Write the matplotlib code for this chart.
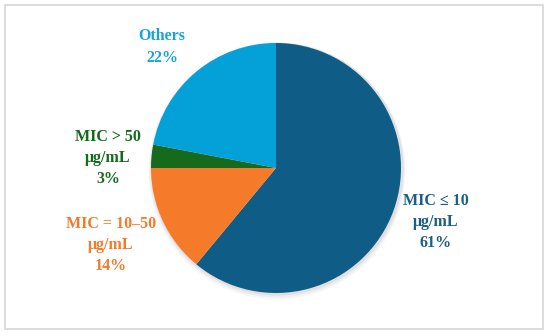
import matplotlib
matplotlib.use("Agg")
import matplotlib.pyplot as plt
from matplotlib.patches import Rectangle, Circle

# ── Data ──────────────────────────────────────────────────────────────────────
categories = ["MIC \u2264 10\n\u03bcg/mL", "MIC = 10\u201350\n\u03bcg/mL",
              "MIC > 50\n\u03bcg/mL", "Others"]
shares = [61, 14, 3, 22]
colors = ["#0f5d86", "#f57b2b", "#156a1c", "#03a1d8"]
text_colors = ["#1d5e85", "#f47a2c", "#156a1c", "#1aa3d8"]

# label anchor positions in pixels (x, y from top)
label_pos = [(436, 222), (111, 245), (108, 158), (162, 47)]

W, H = 550, 336
fig = plt.figure(figsize=(W / 100, H / 100), dpi=100)
ax = fig.add_axes([0, 0, 1, 1])

# ── Outer frame ───────────────────────────────────────────────────────────────
ax.add_patch(Rectangle((5, H - 329), 538, 324, fill=False,
                       edgecolor="#d6d6d6", linewidth=1.2))

cx, cy, r = 276, H - 168, 125

# soft shadow behind pie
for i, a in enumerate([0.05, 0.04, 0.03]):
    ax.add_patch(Circle((cx + 1, cy - 1 - i), r + 1.5 + i, color="#000000",
                        alpha=a, linewidth=0, zorder=1))

ax.pie(shares, colors=colors, startangle=90, counterclock=False,
       center=(cx, cy), radius=r, frame=True,
       wedgeprops=dict(linewidth=0, zorder=2))
ax.set_xlim(0, W)
ax.set_ylim(0, H)
ax.set_aspect("equal")
ax.axis("off")

# ── Labels ────────────────────────────────────────────────────────────────────
for name, val, col, (px, py) in zip(categories, shares, text_colors, label_pos):
    ax.text(px, H - py, f"{name}\n{val}%", ha="center", va="center",
            color=col, fontsize=11.5, fontweight="bold",
            family=["Liberation Serif", "DejaVu Serif"],
            linespacing=1.45, zorder=5)

fig.savefig("out.png", dpi=100)
